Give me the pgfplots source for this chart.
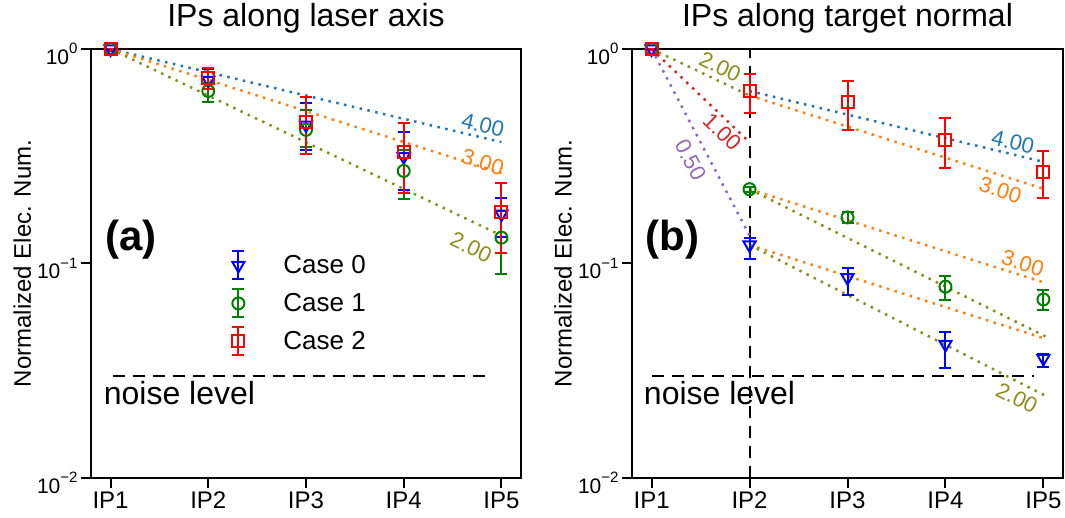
\documentclass[border=0pt]{standalone}
\usepackage{pgfplots}
\pgfplotsset{compat=1.18}
\usepackage{fontspec}
\setmainfont{Liberation Sans}
\definecolor{tabblue}{HTML}{1F77B4}
\definecolor{taborange}{HTML}{FF7F0E}
\definecolor{tabolive}{HTML}{8E8E1E}
\definecolor{tabred}{HTML}{D62728}
\definecolor{tabpurple}{HTML}{9467BD}
\definecolor{cgreen}{HTML}{008000}
\newcommand{\expo}[1]{\raisebox{0.5em}{\fontsize{15}{15}\selectfont #1}}
\newcommand{\errbar}[1]{\draw[#1, line width=2pt] (0pt,-14pt)--(0pt,14pt) (-6pt,-14pt)--(6pt,-14pt) (-6pt,14pt)--(6pt,14pt);}
\tikzset{
  fitline/.style={line width=2.5pt, dash pattern=on 2.5pt off 5.5pt},
  noise/.style={line width=2pt, black, dash pattern=on 12pt off 8pt},
  lab/.style={font=\fontsize{22}{24}\selectfont, inner sep=0pt},
}
\pgfplotsset{
  eb/.style={error bars/y dir=both, error bars/y explicit,
    error bars/error bar style={line width=2pt},
    error bars/error mark options={rotate=90, mark size=6pt, line width=2pt}},
  c0/.style={blue, line width=2pt, only marks, mark=triangle, mark size=7pt, mark options={rotate=180, solid}, eb},
  c1/.style={cgreen, line width=2pt, only marks, mark=o, mark size=6pt, mark options={solid}, eb},
  c2/.style={red, line width=2pt, only marks, mark=square, mark size=6pt, mark options={solid}, eb},
  leg0/.style={legend image code/.code={\errbar{blue}
    \draw[blue, line width=2pt] plot[mark=triangle, mark size=7pt, mark options={rotate=180}] coordinates {(0pt,0pt)};}},
  leg1/.style={legend image code/.code={\errbar{cgreen}
    \draw[cgreen, line width=2pt] plot[mark=o, mark size=6pt] coordinates {(0pt,0pt)};}},
  leg2/.style={legend image code/.code={\errbar{red}
    \draw[red, line width=2pt] plot[mark=square, mark size=6pt] coordinates {(0pt,0pt)};}},
}
\begin{document}
\begin{tikzpicture}
\path[use as bounding box] (0pt,0pt) rectangle (1065pt,518pt);
% ---------------- left panel ----------------
\begin{axis}[width=430pt, at={(91pt,40pt)}, anchor=south west,
    scale only axis, height=429pt,
    ymode=log, ymin=0.01, ymax=1, xmin=0.8, xmax=5.2,
    xtick={1,2,3,4,5}, xticklabels={IP1,IP2,IP3,IP4,IP5},
    ytick={0.01,0.1,1},
    yticklabels={10\expo{−2},10\expo{−1},10\expo{0}},
    yminorticks=false,
    tick align=outside, major tick length=10pt,
    xtick pos=left, ytick pos=left,
    axis line style={line width=2.5pt},
    tick style={line width=2pt, black},
    xticklabel style={font=\fontsize{24}{28}\selectfont},
    yticklabel style={font=\fontsize{21}{24}\selectfont, yshift=-5pt},
    ylabel={Normalized Elec. Num.},
    ylabel style={at={(axis description cs:-0.16,0.5)}, anchor=center, font=\fontsize{24}{28}\selectfont},
    title style={at={(axis description cs:0.5,1)}, anchor=base, yshift=16pt, font=\fontsize{32}{38}\selectfont},
  title={IPs along laser axis},
  legend style={draw=none, fill=none, at={(axis description cs:0.326,0.531)}, anchor=north west,
    font=\fontsize{26}{30}\selectfont, row sep=8pt, inner sep=0pt},
  legend cell align=left]
\addplot[fitline, tabblue, forget plot] coordinates {(1,1) (5,0.368)};
\addplot[fitline, taborange, forget plot] coordinates {(1,1) (5,0.264)};
\addplot[fitline, tabolive, forget plot] coordinates {(1,1) (5,0.135)};
\addplot[noise, forget plot] coordinates {(1.02,0.03) (4.9,0.03)};
\addplot[c0, forget plot] coordinates {
 (1,1) += (0,0.01) -= (0,0.02)
 (2,0.715) += (0,0.09) -= (0,0.15)
 (3,0.442) += (0,0.118) -= (0,0.104)
 (4,0.315) += (0,0.097) -= (0,0.095)
 (5,0.170) += (0,0.033) -= (0,0.037)};
\addplot[c1, forget plot] coordinates {
 (1,1) += (0,0.01) -= (0,0.02)
 (2,0.637) += (0,0.06) -= (0,0.072)
 (3,0.420) += (0,0.10) -= (0,0.07)
 (4,0.270) += (0,0.07) -= (0,0.07)
 (5,0.132) += (0,0.043) -= (0,0.043)};
\addplot[c2, forget plot] coordinates {
 (1,1) += (0,0.01) -= (0,0.02)
 (2,0.735) += (0,0.083) -= (0,0.085)
 (3,0.458) += (0,0.142) -= (0,0.134)
 (4,0.332) += (0,0.122) -= (0,0.119)
 (5,0.174) += (0,0.064) -= (0,0.062)};
\node[lab, text=tabblue, rotate=-13.4] at (axis cs:4.81,0.442) {4.00};
\node[lab, text=taborange, rotate=-17.6] at (axis cs:4.81,0.297) {3.00};
\node[lab, text=tabolive, rotate=-25.4] at (axis cs:4.69,0.119) {2.00};
\node[anchor=base west, inner sep=0pt, font=\fontsize{32}{36}\selectfont] at (axis cs:0.93,0.0219) {noise level};
\node[font=\fontsize{42}{46}\selectfont\bfseries] at (axis cs:1.21,0.129) {(a)};
\addlegendimage{leg0}
\addlegendentry{\hspace{36pt}Case 0}
\addlegendimage{leg1}
\addlegendentry{\hspace{36pt}Case 1}
\addlegendimage{leg2}
\addlegendentry{\hspace{36pt}Case 2}
\end{axis}
% ---------------- right panel ----------------
\begin{axis}[width=431pt, at={(632pt,40pt)}, anchor=south west,
    scale only axis, height=429pt,
    ymode=log, ymin=0.01, ymax=1, xmin=0.8, xmax=5.2,
    xtick={1,2,3,4,5}, xticklabels={IP1,IP2,IP3,IP4,IP5},
    ytick={0.01,0.1,1},
    yticklabels={10\expo{−2},10\expo{−1},10\expo{0}},
    yminorticks=false,
    tick align=outside, major tick length=10pt,
    xtick pos=left, ytick pos=left,
    axis line style={line width=2.5pt},
    tick style={line width=2pt, black},
    xticklabel style={font=\fontsize{24}{28}\selectfont},
    yticklabel style={font=\fontsize{21}{24}\selectfont, yshift=-5pt},
    ylabel={Normalized Elec. Num.},
    ylabel style={at={(axis description cs:-0.16,0.5)}, anchor=center, font=\fontsize{24}{28}\selectfont},
    title style={at={(axis description cs:0.5,1)}, anchor=base, yshift=16pt, font=\fontsize{32}{38}\selectfont},
  title={IPs along target normal}]
\addplot[noise, forget plot] coordinates {(2,0.01) (2,1)};
\addplot[noise, forget plot] coordinates {(1.0,0.03) (4.9,0.03)};
\addplot[fitline, tabolive, forget plot] coordinates {(1,1) (2,0.607)};
\addplot[fitline, tabred, forget plot] coordinates {(1,1) (2,0.368)};
\addplot[fitline, tabpurple, forget plot] coordinates {(1,1) (2,0.135)};
\addplot[fitline, tabblue, forget plot] coordinates {(2,0.637) (5,0.298)};
\addplot[fitline, taborange, forget plot] coordinates {(2,0.607) (5,0.223)};
\addplot[fitline, taborange, forget plot] coordinates {(2,0.222) (5,0.0817)};
\addplot[fitline, tabolive, forget plot] coordinates {(2,0.222) (5.03,0.0455)};
\addplot[fitline, taborange, forget plot] coordinates {(2,0.122) (5,0.0449)};
\addplot[fitline, tabolive, forget plot] coordinates {(2,0.122) (5.05,0.0238)};
\addplot[c0, forget plot] coordinates {
 (1,1) += (0,0.005) -= (0,0.01)
 (2,0.122) += (0,0.009) -= (0,0.017)
 (3,0.0859) += (0,0.0096) -= (0,0.0146)
 (4,0.042) += (0,0.0058) -= (0,0.0095)
 (5,0.0361) += (0,0.0018) -= (0,0.0033)};
\addplot[c1, forget plot] coordinates {
 (1,1) += (0,0.005) -= (0,0.01)
 (2,0.222) += (0,0.006) -= (0,0.006)
 (3,0.164) += (0,0.009) -= (0,0.009)
 (4,0.078) += (0,0.0097) -= (0,0.0104)
 (5,0.068) += (0,0.0072) -= (0,0.0073)};
\addplot[c2, forget plot] coordinates {
 (1,1) += (0,0.005) -= (0,0.01)
 (2,0.637) += (0,0.125) -= (0,0.132)
 (3,0.564) += (0,0.145) -= (0,0.145)
 (4,0.377) += (0,0.101) -= (0,0.097)
 (5,0.268) += (0,0.067) -= (0,0.067)};
\node[lab, text=tabolive, rotate=-25.4] at (axis cs:1.70,0.824) {2.00};
\node[lab, text=tabred, rotate=-43.5] at (axis cs:1.72,0.41) {1.00};
\node[lab, text=tabpurple, rotate=-62.2] at (axis cs:1.40,0.304) {0.50};
\node[lab, text=tabblue, rotate=-13.4] at (axis cs:4.69,0.368) {4.00};
\node[lab, text=taborange, rotate=-17.6] at (axis cs:4.56,0.22) {3.00};
\node[lab, text=taborange, rotate=-17.6] at (axis cs:4.79,0.1005) {3.00};
\node[lab, text=tabolive, rotate=-27] at (axis cs:4.73,0.0236) {2.00};
\node[anchor=base west, inner sep=0pt, font=\fontsize{32}{36}\selectfont] at (axis cs:0.92,0.0219) {noise level};
\node[font=\fontsize{42}{46}\selectfont\bfseries] at (axis cs:1.21,0.129) {(b)};
\end{axis}
\end{tikzpicture}
\end{document}
